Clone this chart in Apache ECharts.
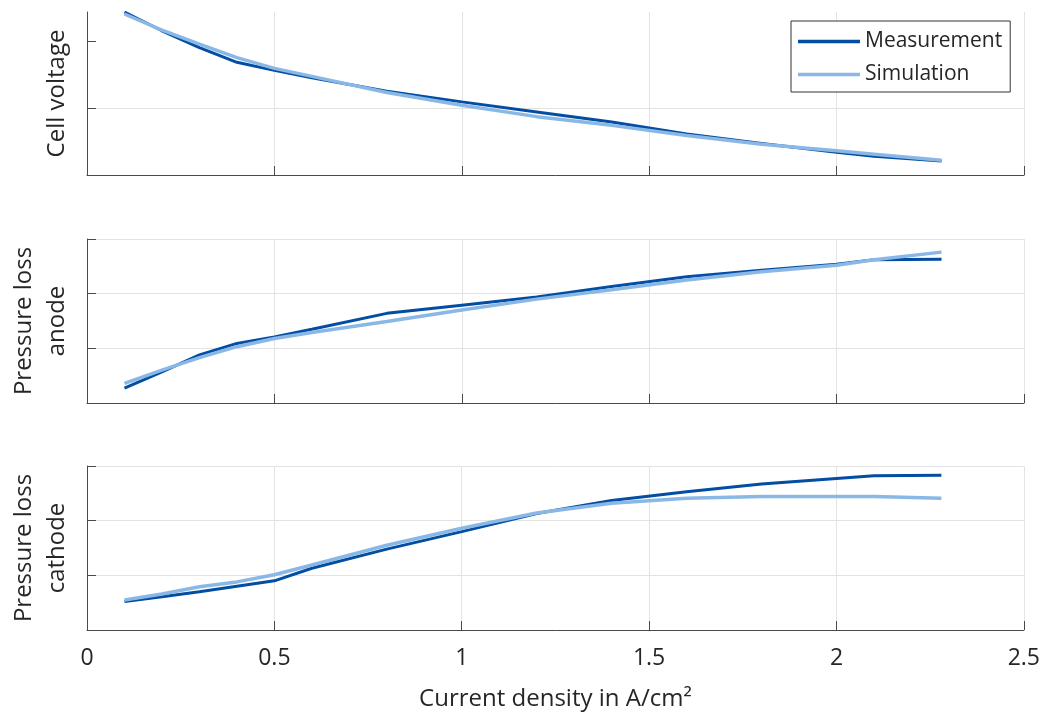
<!DOCTYPE html>
<html>
<head>
<meta charset="utf-8">
<script src="https://cdn.jsdelivr.net/npm/echarts@6/dist/echarts.min.js"></script>
<style>
html,body{margin:0;padding:0;background:#fff;}
#chart{width:1043px;height:715px;}
</style>
</head>
<body>
<div id="chart"></div>
<script>
// Current density in A/cm^2
const xVals = [0.1, 0.2, 0.3, 0.4, 0.5, 0.6, 0.8, 1.0, 1.2, 1.4, 1.6, 1.8, 2.0, 2.1, 2.28];
const xTicks = [0, 0.5, 1, 1.5, 2, 2.5];
// Cell voltage (arbitrary units, no tick labels)
const voltMeas = [2.43, 2.15, 1.90, 1.68, 1.56, 1.45, 1.25, 1.09, 0.94, 0.79, 0.61, 0.47, 0.34, 0.28, 0.21];
const voltSim  = [2.40, 2.16, 1.95, 1.75, 1.59, 1.47, 1.23, 1.04, 0.87, 0.74, 0.59, 0.46, 0.36, 0.31, 0.22];
// Pressure loss anode
const anodeMeas = [0.27, 0.57, 0.88, 1.09, 1.21, 1.35, 1.64, 1.79, 1.94, 2.13, 2.31, 2.43, 2.54, 2.62, 2.63];
const anodeSim  = [0.36, 0.60, 0.83, 1.03, 1.18, 1.29, 1.49, 1.70, 1.90, 2.07, 2.25, 2.40, 2.52, 2.62, 2.76];
// Pressure loss cathode
const cathMeas = [0.52, 0.61, 0.70, 0.80, 0.90, 1.13, 1.48, 1.80, 2.13, 2.37, 2.53, 2.67, 2.77, 2.82, 2.83];
const cathSim  = [0.55, 0.66, 0.79, 0.88, 1.01, 1.19, 1.55, 1.86, 2.14, 2.32, 2.41, 2.44, 2.44, 2.44, 2.41];

const FONT = '"Open Sans", "Noto Sans", sans-serif';
const TXT = '#262626';
const AX = '#4a4a4a';
const GRIDC = '#e3e3e3';
const C_MEAS = '#034ea2';
const C_SIM = '#8ab8e6';

const pairs = (ys) => xVals.map((x, i) => [x, ys[i]]);

const grids = [
  {left: 87, right: 19, top: 12, height: 163},
  {left: 87, right: 19, top: 239, height: 164},
  {left: 87, right: 19, top: 466, height: 164}
];

function xAxis(i, showLabels) {
  return {
    type: 'value', gridIndex: i, min: xTicks[0], max: xTicks[xTicks.length - 1], interval: 0.5,
    axisLine: {show: true, lineStyle: {color: AX, width: 1}},
    axisTick: {show: true, inside: true, length: 9, lineStyle: {color: AX}},
    axisLabel: {show: showLabels, fontFamily: FONT, fontSize: 23, color: TXT, margin: 17},
    splitLine: {show: true, lineStyle: {color: GRIDC, width: 1}},
    name: showLabels ? 'Current density in A/cm²' : '',
    nameLocation: 'middle', nameGap: 57,
    nameTextStyle: {fontFamily: FONT, fontSize: 24, color: TXT}
  };
}

function yAxis(i, name, max, opts) {
  return Object.assign({
    type: 'value', gridIndex: i, min: 0, max: max, interval: 1,
    axisLine: {show: true, lineStyle: {color: AX, width: 1}},
    axisTick: {show: true, inside: true, length: 9, lineStyle: {color: AX}},
    axisLabel: {show: false},
    splitLine: {show: true, lineStyle: {color: GRIDC, width: 1}},
    name: name, nameLocation: 'middle', nameGap: 13, nameRotate: 90,
    nameTextStyle: {fontFamily: FONT, fontSize: 24, color: TXT, lineHeight: 33}
  }, opts || {});
}

function lineSeries(name, data, i, color, width) {
  return {
    name: name, type: 'line', xAxisIndex: i, yAxisIndex: i, data: data,
    symbol: 'none', showSymbol: false, smooth: false, animation: false,
    lineStyle: {color: color, width: width}, itemStyle: {color: color}
  };
}

const chart = echarts.init(document.getElementById('chart'), null, {renderer: 'canvas'});
chart.setOption({
  backgroundColor: '#fff',
  animation: false,
  grid: grids,
  xAxis: [xAxis(0, false), xAxis(1, false), xAxis(2, true)],
  yAxis: [
    yAxis(0, 'Cell voltage', 2.43, {
      axisTick: {show: true, inside: true, length: 9, lineStyle: {color: AX}, customValues: [0, 1, 2]},
      splitLine: {show: true, showMaxLine: false, lineStyle: {color: GRIDC, width: 1}}
    }),
    yAxis(1, 'Pressure loss\nanode', 3),
    yAxis(2, 'Pressure loss\ncathode', 3)
  ],
  legend: {
    data: [
      {name: 'Measurement', icon: 'rect', itemStyle: {color: C_MEAS}},
      {name: 'Simulation', icon: 'rect', itemStyle: {color: C_SIM}}
    ],
    orient: 'vertical', left: 791, top: 21,
    padding: [10, 8, 7, 7], itemGap: 12, itemWidth: 62, itemHeight: 3.5,
    backgroundColor: '#fff', borderColor: '#333', borderWidth: 1,
    textStyle: {fontFamily: FONT, fontSize: 21, color: TXT, lineHeight: 21}
  },
  series: [
    lineSeries('Measurement', pairs(voltMeas), 0, C_MEAS, 3),
    lineSeries('Simulation', pairs(voltSim), 0, C_SIM, 3.5),
    lineSeries('Measurement', pairs(anodeMeas), 1, C_MEAS, 3),
    lineSeries('Simulation', pairs(anodeSim), 1, C_SIM, 3.5),
    lineSeries('Measurement', pairs(cathMeas), 2, C_MEAS, 3),
    lineSeries('Simulation', pairs(cathSim), 2, C_SIM, 3.5)
  ]
});
</script>
</body>
</html>
